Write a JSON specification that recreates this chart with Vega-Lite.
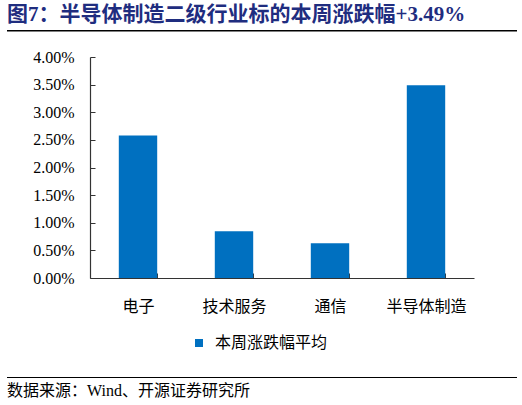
{
  "$schema": "https://vega.github.io/schema/vega-lite/v6.json",
  "description": "半导体制造二级行业标的本周涨跌幅",
  "padding": {"left": 6, "right": 6, "top": 4, "bottom": 0},
  "config": {
    "view": {"stroke": null},
    "font": "Liberation Serif, Noto Sans CJK SC",
    "axis": {
      "labelFont": "Liberation Serif, Noto Sans CJK SC",
      "labelFontSize": 16,
      "labelColor": "#000",
      "domainColor": "#333",
      "tickColor": "#333",
      "domainWidth": 1.2
    }
  },
  "spacing": 17,
  "vconcat": [
    {
      "width": 510,
      "height": 1.5,
      "data": {"values": [{}]},
      "mark": {"type": "bar", "color": "#000"},
      "encoding": {},
      "title": {
        "text": "图7：半导体制造二级行业标的本周涨跌幅+3.49%",
        "anchor": "start",
        "font": "Liberation Serif, Noto Sans CJK SC",
        "fontSize": 21,
        "fontWeight": "bold",
        "color": "#1F2D7F",
        "offset": 5
      }
    },
    {
      "spacing": 0,
      "hconcat": [
        {
          "width": 24,
          "height": 221,
          "data": {"values": []},
          "mark": "rule",
          "encoding": {},
          "view": {"stroke": "transparent"}
        },
        {
          "width": 384,
          "height": 221,
          "data": {
            "values": [
              {"行业": "电子", "涨跌幅": 0.0258},
              {"行业": "技术服务", "涨跌幅": 0.00845},
              {"行业": "通信", "涨跌幅": 0.0063},
              {"行业": "半导体制造", "涨跌幅": 0.0349}
            ]
          },
          "mark": {"type": "bar", "color": "#0070C0"},
          "encoding": {
            "x": {
              "field": "行业",
              "type": "nominal",
              "sort": null,
              "scale": {"paddingInner": 0.6, "paddingOuter": 0.3},
              "axis": {
                "title": null,
                "labelAngle": 0,
                "tickBand": "extent",
                "tickSize": -5,
                "labelPadding": 25
              }
            },
            "y": {
              "field": "涨跌幅",
              "type": "quantitative",
              "scale": {"domain": [0, 0.04], "nice": false},
              "axis": {
                "title": null,
                "grid": false,
                "values": [0, 0.005, 0.01, 0.015, 0.02, 0.025, 0.03, 0.035, 0.04],
                "format": ".2%",
                "tickSize": -5,
                "labelPadding": 21
              }
            },
            "color": {
              "datum": "本周涨跌幅平均",
              "type": "nominal",
              "scale": {"range": ["#0070C0"]},
              "legend": {
                "title": null,
                "orient": "none",
                "legendX": 184,
                "legendY": 305,
                "symbolType": "square",
                "symbolSize": 64,
                "symbolStrokeWidth": 0,
                "labelFont": "Liberation Serif, Noto Sans CJK SC",
                "labelFontSize": 16,
                "labelColor": "#000",
                "labelOffset": 8
              }
            }
          }
        }
      ]
    },
    {
      "width": 510,
      "height": 27,
      "data": {"values": []},
      "mark": "rule",
      "encoding": {},
      "view": {"stroke": "transparent"}
    },
    {
      "width": 510,
      "height": 1,
      "data": {"values": [{}]},
      "mark": {"type": "bar", "color": "#000"},
      "encoding": {},
      "title": {
        "text": "数据来源：Wind、开源证券研究所",
        "orient": "bottom",
        "anchor": "start",
        "font": "Liberation Serif, Noto Sans CJK SC",
        "fontSize": 16,
        "fontWeight": "normal",
        "color": "#000",
        "offset": 5
      }
    }
  ]
}
